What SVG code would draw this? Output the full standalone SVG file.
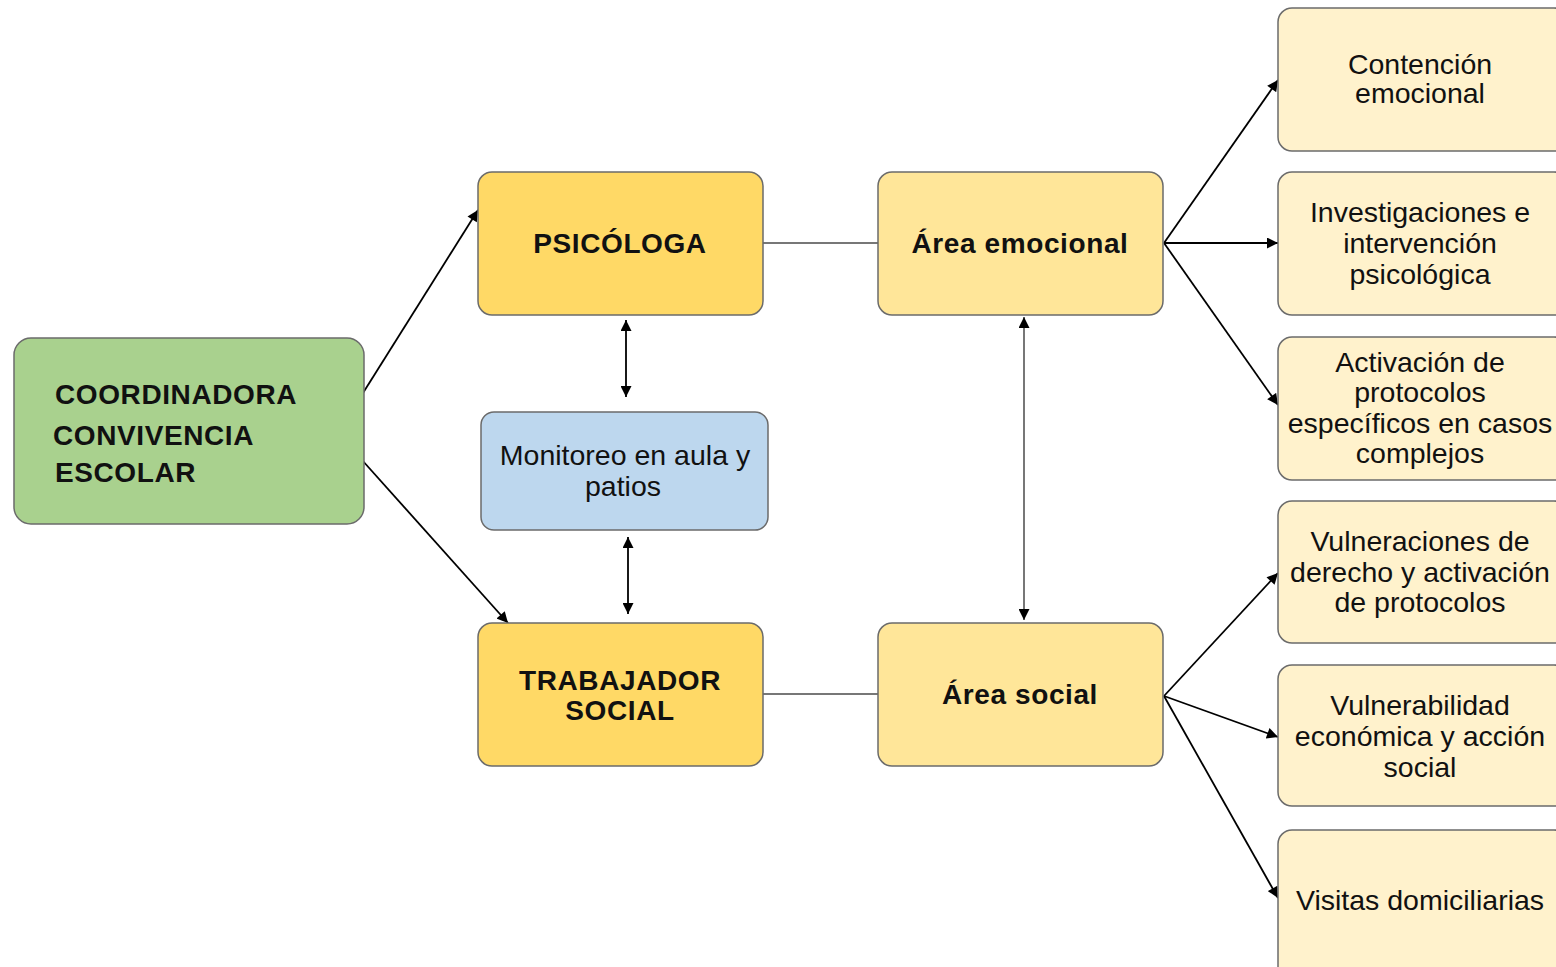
<svg xmlns="http://www.w3.org/2000/svg" width="1556" height="967" viewBox="0 0 1556 967">
<defs>
<marker id="ah" viewBox="0 0 10 10" refX="10" refY="5" markerWidth="12" markerHeight="11" markerUnits="userSpaceOnUse" orient="auto-start-reverse">
<path d="M0,0 L10,5 L0,10 z" fill="#000"/>
</marker>
</defs>
<style>
.box{stroke:#6b6b6b;stroke-width:1.5}
.g{fill:#a9d18e}
.y{fill:#ffd966}
.a{fill:#ffe699}
.l{fill:#fff2cc}
.b{fill:#bdd7ee}
text{font-family:"Liberation Sans",Arial,sans-serif;font-size:28.5px;fill:#111}
.bold{font-weight:bold;font-size:28px;letter-spacing:0.6px}
.c{text-anchor:middle}
.ln{stroke:#000;stroke-width:1.8;fill:none}
.gl{stroke:#777;stroke-width:2;fill:none}
</style>
<rect width="1556" height="967" fill="#fff"/>
<g id="connectors">
<line class="ln" x1="363" y1="393" x2="478" y2="210" marker-end="url(#ah)"/>
<line class="ln" x1="362" y1="460" x2="508" y2="623" marker-end="url(#ah)"/>
<line class="gl" x1="763" y1="243" x2="878" y2="243"/>
<line class="gl" x1="763" y1="694" x2="878" y2="694"/>
<line class="ln" x1="626" y1="320" x2="626" y2="397" marker-start="url(#ah)" marker-end="url(#ah)"/>
<line class="ln" x1="628" y1="537" x2="628" y2="614" marker-start="url(#ah)" marker-end="url(#ah)"/>
<line class="gl" x1="1024" y1="317" x2="1024" y2="620" marker-start="url(#ah)" marker-end="url(#ah)"/>
<line class="ln" x1="1164" y1="243" x2="1278" y2="80" marker-end="url(#ah)"/>
<line class="ln" x1="1164" y1="243" x2="1278" y2="243" marker-end="url(#ah)"/>
<line class="ln" x1="1164" y1="243" x2="1278" y2="405" marker-end="url(#ah)"/>
<line class="ln" x1="1164" y1="696" x2="1278" y2="573" marker-end="url(#ah)"/>
<line class="ln" x1="1164" y1="696" x2="1278" y2="737" marker-end="url(#ah)"/>
<line class="ln" x1="1164" y1="696" x2="1278" y2="898" marker-end="url(#ah)"/>
</g>
<g id="coordinadora">
<rect class="box g" x="14" y="338" width="350" height="186" rx="17"/>
<text class="bold" x="55" y="404">COORDINADORA</text>
<text class="bold" x="53" y="445">CONVIVENCIA</text>
<text class="bold" x="55" y="482">ESCOLAR</text>
</g>
<g id="psicologa">
<rect class="box y" x="478" y="172" width="285" height="143" rx="14"/>
<text class="bold c" x="620" y="253">PSICÓLOGA</text>
</g>
<g id="monitoreo">
<rect class="box b" x="481" y="412" width="287" height="118" rx="13"/>
<text class="c" x="625" y="465">Monitoreo en aula y</text>
<text class="c" x="623" y="496">patios</text>
</g>
<g id="trabajador">
<rect class="box y" x="478" y="623" width="285" height="143" rx="14"/>
<text class="bold c" x="620" y="690">TRABAJADOR</text>
<text class="bold c" x="620" y="720">SOCIAL</text>
</g>
<g id="area-emocional">
<rect class="box a" x="878" y="172" width="285" height="143" rx="14"/>
<text class="bold c" x="1020" y="253">Área emocional</text>
</g>
<g id="area-social">
<rect class="box a" x="878" y="623" width="285" height="143" rx="14"/>
<text class="bold c" x="1020" y="704">Área social</text>
</g>
<g id="contencion">
<rect class="box l" x="1278" y="8" width="290" height="143" rx="14"/>
<text class="c" x="1420" y="74">Contención</text>
<text class="c" x="1420" y="103">emocional</text>
</g>
<g id="investigaciones">
<rect class="box l" x="1278" y="172" width="290" height="143" rx="14"/>
<text class="c" x="1420" y="222">Investigaciones e</text>
<text class="c" x="1420" y="253">intervención</text>
<text class="c" x="1420" y="284">psicológica</text>
</g>
<g id="activacion">
<rect class="box l" x="1278" y="337" width="290" height="143" rx="14"/>
<text class="c" x="1420" y="372">Activación de</text>
<text class="c" x="1420" y="402">protocolos</text>
<text class="c" x="1420" y="433">específicos en casos</text>
<text class="c" x="1420" y="463">complejos</text>
</g>
<g id="vulneraciones">
<rect class="box l" x="1278" y="501" width="290" height="142" rx="14"/>
<text class="c" x="1420" y="551">Vulneraciones de</text>
<text class="c" x="1420" y="582">derecho y activación</text>
<text class="c" x="1420" y="612">de protocolos</text>
</g>
<g id="vulnerabilidad">
<rect class="box l" x="1278" y="665" width="290" height="141" rx="14"/>
<text class="c" x="1420" y="715">Vulnerabilidad</text>
<text class="c" x="1420" y="746">económica y acción</text>
<text class="c" x="1420" y="777">social</text>
</g>
<g id="visitas">
<rect class="box l" x="1278" y="830" width="290" height="160" rx="14"/>
<text class="c" x="1420" y="910">Visitas domiciliarias</text>
</g>
</svg>
